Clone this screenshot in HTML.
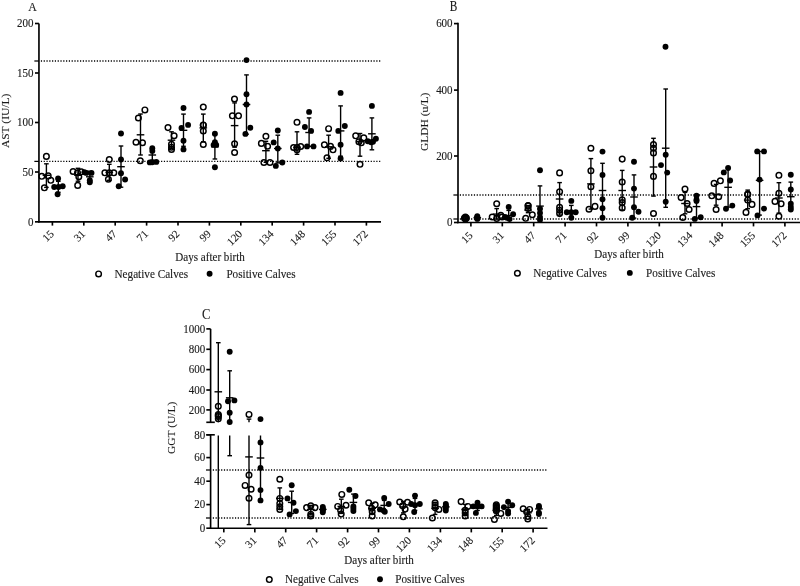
<!DOCTYPE html>
<html><head><meta charset="utf-8"><title>Figure</title>
<style>
html,body{margin:0;padding:0;background:#fff;}
body{width:800px;height:586px;overflow:hidden;font-family:"Liberation Serif", serif;}
svg{display:block;will-change:transform;}
text{fill:#1a1a1a;stroke:#1a1a1a;stroke-width:0.12px;}
</style></head><body>
<svg width="800" height="586" viewBox="0 0 800 586" font-family="'Liberation Serif', serif" fill="#000"><text transform="translate(28.3,10.5) scale(1,1.12)" font-size="11.8" text-anchor="start" >A</text><g stroke="#000" stroke-width="1.65" fill="none"><line x1="38.95" y1="23.5" x2="38.95" y2="222.6"/><line x1="38.2" y1="221.85" x2="381" y2="221.85"/><line x1="35.0" y1="23.5" x2="38.95" y2="23.5"/><line x1="35.0" y1="73.0" x2="38.95" y2="73.0"/><line x1="35.0" y1="122.5" x2="38.95" y2="122.5"/><line x1="35.0" y1="172.0" x2="38.95" y2="172.0"/><line x1="35.0" y1="221.85" x2="38.95" y2="221.85"/><line x1="52.4" y1="221.85" x2="52.4" y2="225.6"/><line x1="83.8" y1="221.85" x2="83.8" y2="225.6"/><line x1="115.2" y1="221.85" x2="115.2" y2="225.6"/><line x1="146.6" y1="221.85" x2="146.6" y2="225.6"/><line x1="178.0" y1="221.85" x2="178.0" y2="225.6"/><line x1="209.4" y1="221.85" x2="209.4" y2="225.6"/><line x1="240.8" y1="221.85" x2="240.8" y2="225.6"/><line x1="272.2" y1="221.85" x2="272.2" y2="225.6"/><line x1="303.6" y1="221.85" x2="303.6" y2="225.6"/><line x1="335.0" y1="221.85" x2="335.0" y2="225.6"/><line x1="366.4" y1="221.85" x2="366.4" y2="225.6"/></g><text transform="translate(33.5,27.3) scale(1,1.12)" font-size="11" text-anchor="end" >200</text><text transform="translate(33.5,76.8) scale(1,1.12)" font-size="11" text-anchor="end" >150</text><text transform="translate(33.5,126.3) scale(1,1.12)" font-size="11" text-anchor="end" >100</text><text transform="translate(33.5,175.8) scale(1,1.12)" font-size="11" text-anchor="end" >50</text><text transform="translate(33.5,225.65) scale(1,1.12)" font-size="11" text-anchor="end" >0</text><text transform="translate(54.6,234.5) rotate(-45)" font-size="11" text-anchor="end">15</text><text transform="translate(86.0,234.5) rotate(-45)" font-size="11" text-anchor="end">31</text><text transform="translate(117.4,234.5) rotate(-45)" font-size="11" text-anchor="end">47</text><text transform="translate(148.8,234.5) rotate(-45)" font-size="11" text-anchor="end">71</text><text transform="translate(180.2,234.5) rotate(-45)" font-size="11" text-anchor="end">92</text><text transform="translate(211.6,234.5) rotate(-45)" font-size="11" text-anchor="end">99</text><text transform="translate(243.0,234.5) rotate(-45)" font-size="11" text-anchor="end">120</text><text transform="translate(274.4,234.5) rotate(-45)" font-size="11" text-anchor="end">134</text><text transform="translate(305.8,234.5) rotate(-45)" font-size="11" text-anchor="end">148</text><text transform="translate(337.2,234.5) rotate(-45)" font-size="11" text-anchor="end">155</text><text transform="translate(368.6,234.5) rotate(-45)" font-size="11" text-anchor="end">172</text><line x1="40.87" y1="61.0" x2="381.5" y2="61.0" stroke="#000" stroke-width="1.35" stroke-dasharray="1.2 1.595"/><line x1="34.35" y1="61.0" x2="38.95" y2="61.0" stroke="#000" stroke-width="1.25"/><line x1="40.87" y1="161.4" x2="381.5" y2="161.4" stroke="#000" stroke-width="1.35" stroke-dasharray="1.2 1.595"/><line x1="34.35" y1="161.4" x2="38.95" y2="161.4" stroke="#000" stroke-width="1.25"/><text transform="translate(8.5,120.9) rotate(-90) scale(1,0.93)" font-size="11.5" text-anchor="middle">AST (IU/L)</text><text transform="translate(210,261) scale(1,1.12)" font-size="11.1" text-anchor="middle" >Days after birth</text><circle cx="98.6" cy="273.9" r="2.8" fill="none" stroke="#000" stroke-width="1.45"/><text transform="translate(114.5,277.5) scale(1,1.12)" font-size="11.2" text-anchor="start" >Negative Calves</text><circle cx="209.6" cy="273.7" r="2.95"/><text transform="translate(226.4,277.5) scale(1,1.12)" font-size="11.2" text-anchor="start" >Positive Calves</text><circle cx="46.4" cy="156.4" r="2.8" fill="none" stroke="#000" stroke-width="1.45"/><circle cx="41.8" cy="176.3" r="2.8" fill="none" stroke="#000" stroke-width="1.45"/><circle cx="48.2" cy="175.9" r="2.8" fill="none" stroke="#000" stroke-width="1.45"/><circle cx="50.8" cy="180.3" r="2.8" fill="none" stroke="#000" stroke-width="1.45"/><circle cx="44.4" cy="187.8" r="2.8" fill="none" stroke="#000" stroke-width="1.45"/><g stroke="#000" stroke-width="1.4"><line x1="46.4" y1="163.8" x2="46.4" y2="187.4"/><line x1="44.1" y1="163.8" x2="48.7" y2="163.8"/><line x1="44.1" y1="187.4" x2="48.7" y2="187.4"/><line x1="42.6" y1="175.3" x2="50.2" y2="175.3"/></g><circle cx="58.1" cy="178.5" r="2.95"/><circle cx="54.2" cy="187.0" r="2.95"/><circle cx="58.5" cy="187.0" r="2.95"/><circle cx="62.7" cy="186.2" r="2.95"/><circle cx="57.6" cy="194.3" r="2.95"/><g stroke="#000" stroke-width="1.4"><line x1="58.3" y1="181.3" x2="58.3" y2="192.3"/><line x1="56.0" y1="181.3" x2="60.6" y2="181.3"/><line x1="56.0" y1="192.3" x2="60.6" y2="192.3"/><line x1="54.5" y1="186.3" x2="62.1" y2="186.3"/></g><circle cx="73.1" cy="171.5" r="2.8" fill="none" stroke="#000" stroke-width="1.45"/><circle cx="77.5" cy="172.7" r="2.8" fill="none" stroke="#000" stroke-width="1.45"/><circle cx="81.3" cy="171.8" r="2.8" fill="none" stroke="#000" stroke-width="1.45"/><circle cx="78.8" cy="176.7" r="2.8" fill="none" stroke="#000" stroke-width="1.45"/><circle cx="77.7" cy="185.4" r="2.8" fill="none" stroke="#000" stroke-width="1.45"/><g stroke="#000" stroke-width="1.4"><line x1="78.0" y1="168.3" x2="78.0" y2="181.2"/><line x1="75.7" y1="168.3" x2="80.3" y2="168.3"/><line x1="75.7" y1="181.2" x2="80.3" y2="181.2"/><line x1="74.2" y1="175.3" x2="81.8" y2="175.3"/></g><circle cx="86.4" cy="172.9" r="2.95"/><circle cx="91.5" cy="172.9" r="2.95"/><circle cx="89.8" cy="180.2" r="2.95"/><circle cx="89.8" cy="182.2" r="2.95"/><circle cx="84.4" cy="172.3" r="2.95"/><g stroke="#000" stroke-width="1.4"><line x1="89.8" y1="171.3" x2="89.8" y2="182.3"/><line x1="87.5" y1="171.3" x2="92.1" y2="171.3"/><line x1="87.5" y1="182.3" x2="92.1" y2="182.3"/><line x1="86.0" y1="176.8" x2="93.6" y2="176.8"/></g><circle cx="109.3" cy="159.5" r="2.8" fill="none" stroke="#000" stroke-width="1.45"/><circle cx="104.9" cy="172.8" r="2.8" fill="none" stroke="#000" stroke-width="1.45"/><circle cx="109.3" cy="172.8" r="2.8" fill="none" stroke="#000" stroke-width="1.45"/><circle cx="113.8" cy="172.8" r="2.8" fill="none" stroke="#000" stroke-width="1.45"/><circle cx="108.4" cy="179.2" r="2.8" fill="none" stroke="#000" stroke-width="1.45"/><g stroke="#000" stroke-width="1.4"><line x1="109.3" y1="164.3" x2="109.3" y2="180.3"/><line x1="107.0" y1="164.3" x2="111.6" y2="164.3"/><line x1="107.0" y1="180.3" x2="111.6" y2="180.3"/><line x1="105.5" y1="172.3" x2="113.1" y2="172.3"/></g><circle cx="121.0" cy="133.5" r="2.95"/><circle cx="121.0" cy="159.5" r="2.95"/><circle cx="121.0" cy="173.3" r="2.95"/><circle cx="125.1" cy="179.5" r="2.95"/><circle cx="118.7" cy="186.3" r="2.95"/><g stroke="#000" stroke-width="1.4"><line x1="121.0" y1="146.0" x2="121.0" y2="187.2"/><line x1="118.7" y1="146.0" x2="123.3" y2="146.0"/><line x1="118.7" y1="187.2" x2="123.3" y2="187.2"/><line x1="117.2" y1="166.7" x2="124.8" y2="166.7"/></g><circle cx="144.9" cy="109.9" r="2.8" fill="none" stroke="#000" stroke-width="1.45"/><circle cx="138.4" cy="118.0" r="2.8" fill="none" stroke="#000" stroke-width="1.45"/><circle cx="136.0" cy="142.2" r="2.8" fill="none" stroke="#000" stroke-width="1.45"/><circle cx="142.5" cy="142.7" r="2.8" fill="none" stroke="#000" stroke-width="1.45"/><circle cx="140.3" cy="160.7" r="2.8" fill="none" stroke="#000" stroke-width="1.45"/><g stroke="#000" stroke-width="1.4"><line x1="140.5" y1="114.0" x2="140.5" y2="155.0"/><line x1="138.2" y1="114.0" x2="142.8" y2="114.0"/><line x1="138.2" y1="155.0" x2="142.8" y2="155.0"/><line x1="136.7" y1="134.8" x2="144.3" y2="134.8"/></g><circle cx="152.3" cy="148.3" r="2.95"/><circle cx="152.3" cy="150.9" r="2.95"/><circle cx="149.8" cy="162.4" r="2.95"/><circle cx="156.3" cy="161.9" r="2.95"/><circle cx="152.3" cy="162.3" r="2.95"/><g stroke="#000" stroke-width="1.4"><line x1="152.3" y1="148.3" x2="152.3" y2="160.3"/><line x1="150.0" y1="148.3" x2="154.6" y2="148.3"/><line x1="150.0" y1="160.3" x2="154.6" y2="160.3"/><line x1="148.5" y1="155.0" x2="156.1" y2="155.0"/></g><circle cx="168.0" cy="127.6" r="2.8" fill="none" stroke="#000" stroke-width="1.45"/><circle cx="174.1" cy="135.7" r="2.8" fill="none" stroke="#000" stroke-width="1.45"/><circle cx="171.5" cy="144.2" r="2.8" fill="none" stroke="#000" stroke-width="1.45"/><circle cx="171.5" cy="147.2" r="2.8" fill="none" stroke="#000" stroke-width="1.45"/><circle cx="171.5" cy="149.4" r="2.8" fill="none" stroke="#000" stroke-width="1.45"/><g stroke="#000" stroke-width="1.4"><line x1="171.5" y1="131.8" x2="171.5" y2="148.3"/><line x1="169.2" y1="131.8" x2="173.8" y2="131.8"/><line x1="169.2" y1="148.3" x2="173.8" y2="148.3"/><line x1="167.7" y1="140.2" x2="175.3" y2="140.2"/></g><circle cx="183.5" cy="108.0" r="2.95"/><circle cx="188.1" cy="124.9" r="2.95"/><circle cx="181.5" cy="127.9" r="2.95"/><circle cx="183.5" cy="140.8" r="2.95"/><circle cx="183.5" cy="149.4" r="2.95"/><g stroke="#000" stroke-width="1.4"><line x1="183.5" y1="114.1" x2="183.5" y2="146.3"/><line x1="181.2" y1="114.1" x2="185.8" y2="114.1"/><line x1="181.2" y1="146.3" x2="185.8" y2="146.3"/><line x1="179.7" y1="130.3" x2="187.3" y2="130.3"/></g><circle cx="203.3" cy="107.1" r="2.8" fill="none" stroke="#000" stroke-width="1.45"/><circle cx="203.3" cy="124.9" r="2.8" fill="none" stroke="#000" stroke-width="1.45"/><circle cx="203.3" cy="125.2" r="2.8" fill="none" stroke="#000" stroke-width="1.45"/><circle cx="203.3" cy="131.0" r="2.8" fill="none" stroke="#000" stroke-width="1.45"/><circle cx="203.3" cy="144.5" r="2.8" fill="none" stroke="#000" stroke-width="1.45"/><g stroke="#000" stroke-width="1.4"><line x1="203.3" y1="114.1" x2="203.3" y2="141.8"/><line x1="201.0" y1="114.1" x2="205.6" y2="114.1"/><line x1="201.0" y1="141.8" x2="205.6" y2="141.8"/><line x1="199.5" y1="127.9" x2="207.1" y2="127.9"/></g><circle cx="214.9" cy="133.7" r="2.95"/><circle cx="214.9" cy="142.2" r="2.95"/><circle cx="213.6" cy="144.9" r="2.95"/><circle cx="216.2" cy="144.9" r="2.95"/><circle cx="214.9" cy="167.3" r="2.95"/><g stroke="#000" stroke-width="1.4"><line x1="214.9" y1="134.3" x2="214.9" y2="159.0"/><line x1="212.6" y1="134.3" x2="217.2" y2="134.3"/><line x1="212.6" y1="159.0" x2="217.2" y2="159.0"/><line x1="211.1" y1="146.8" x2="218.7" y2="146.8"/></g><circle cx="234.5" cy="99.0" r="2.8" fill="none" stroke="#000" stroke-width="1.45"/><circle cx="232.4" cy="115.8" r="2.8" fill="none" stroke="#000" stroke-width="1.45"/><circle cx="238.5" cy="115.8" r="2.8" fill="none" stroke="#000" stroke-width="1.45"/><circle cx="234.6" cy="143.8" r="2.8" fill="none" stroke="#000" stroke-width="1.45"/><circle cx="234.6" cy="152.5" r="2.8" fill="none" stroke="#000" stroke-width="1.45"/><g stroke="#000" stroke-width="1.4"><line x1="234.6" y1="102.9" x2="234.6" y2="147.2"/><line x1="232.3" y1="102.9" x2="236.9" y2="102.9"/><line x1="232.3" y1="147.2" x2="236.9" y2="147.2"/><line x1="230.8" y1="125.6" x2="238.4" y2="125.6"/></g><circle cx="246.5" cy="60.1" r="2.95"/><circle cx="246.5" cy="94.3" r="2.95"/><circle cx="246.5" cy="104.5" r="2.95"/><circle cx="250.3" cy="127.8" r="2.95"/><circle cx="245.4" cy="133.9" r="2.95"/><g stroke="#000" stroke-width="1.4"><line x1="246.5" y1="74.9" x2="246.5" y2="134.2"/><line x1="244.2" y1="74.9" x2="248.8" y2="74.9"/><line x1="244.2" y1="134.2" x2="248.8" y2="134.2"/><line x1="242.7" y1="104.5" x2="250.3" y2="104.5"/></g><circle cx="265.9" cy="136.3" r="2.8" fill="none" stroke="#000" stroke-width="1.45"/><circle cx="261.4" cy="143.4" r="2.8" fill="none" stroke="#000" stroke-width="1.45"/><circle cx="267.6" cy="146.2" r="2.8" fill="none" stroke="#000" stroke-width="1.45"/><circle cx="263.9" cy="162.5" r="2.8" fill="none" stroke="#000" stroke-width="1.45"/><circle cx="270.0" cy="162.5" r="2.8" fill="none" stroke="#000" stroke-width="1.45"/><g stroke="#000" stroke-width="1.4"><line x1="265.9" y1="141.3" x2="265.9" y2="162.3"/><line x1="263.6" y1="141.3" x2="268.2" y2="141.3"/><line x1="263.6" y1="162.3" x2="268.2" y2="162.3"/><line x1="262.1" y1="150.7" x2="269.7" y2="150.7"/></g><circle cx="277.8" cy="130.5" r="2.95"/><circle cx="273.7" cy="142.4" r="2.95"/><circle cx="277.8" cy="148.5" r="2.95"/><circle cx="275.8" cy="165.9" r="2.95"/><circle cx="282.3" cy="162.5" r="2.95"/><g stroke="#000" stroke-width="1.4"><line x1="277.8" y1="135.2" x2="277.8" y2="162.9"/><line x1="275.5" y1="135.2" x2="280.1" y2="135.2"/><line x1="275.5" y1="162.9" x2="280.1" y2="162.9"/><line x1="274.0" y1="148.5" x2="281.6" y2="148.5"/></g><circle cx="297.0" cy="122.3" r="2.8" fill="none" stroke="#000" stroke-width="1.45"/><circle cx="293.6" cy="147.5" r="2.8" fill="none" stroke="#000" stroke-width="1.45"/><circle cx="297.0" cy="147.5" r="2.8" fill="none" stroke="#000" stroke-width="1.45"/><circle cx="300.7" cy="146.5" r="2.8" fill="none" stroke="#000" stroke-width="1.45"/><circle cx="297.0" cy="149.7" r="2.8" fill="none" stroke="#000" stroke-width="1.45"/><g stroke="#000" stroke-width="1.4"><line x1="297.0" y1="131.8" x2="297.0" y2="154.3"/><line x1="294.7" y1="131.8" x2="299.3" y2="131.8"/><line x1="294.7" y1="154.3" x2="299.3" y2="154.3"/><line x1="293.2" y1="147.3" x2="300.8" y2="147.3"/></g><circle cx="309.1" cy="111.9" r="2.95"/><circle cx="304.9" cy="127.0" r="2.95"/><circle cx="311.1" cy="130.9" r="2.95"/><circle cx="307.0" cy="146.4" r="2.95"/><circle cx="313.5" cy="146.4" r="2.95"/><g stroke="#000" stroke-width="1.4"><line x1="309.1" y1="117.9" x2="309.1" y2="146.3"/><line x1="306.8" y1="117.9" x2="311.4" y2="117.9"/><line x1="306.8" y1="146.3" x2="311.4" y2="146.3"/><line x1="305.3" y1="132.5" x2="312.9" y2="132.5"/></g><circle cx="328.6" cy="128.7" r="2.8" fill="none" stroke="#000" stroke-width="1.45"/><circle cx="324.4" cy="144.8" r="2.8" fill="none" stroke="#000" stroke-width="1.45"/><circle cx="330.5" cy="146.4" r="2.8" fill="none" stroke="#000" stroke-width="1.45"/><circle cx="333.0" cy="149.8" r="2.8" fill="none" stroke="#000" stroke-width="1.45"/><circle cx="327.0" cy="157.8" r="2.8" fill="none" stroke="#000" stroke-width="1.45"/><g stroke="#000" stroke-width="1.4"><line x1="328.6" y1="135.2" x2="328.6" y2="158.3"/><line x1="326.3" y1="135.2" x2="330.9" y2="135.2"/><line x1="326.3" y1="158.3" x2="330.9" y2="158.3"/><line x1="324.8" y1="146.8" x2="332.4" y2="146.8"/></g><circle cx="340.6" cy="92.9" r="2.95"/><circle cx="344.8" cy="126.0" r="2.95"/><circle cx="338.3" cy="130.9" r="2.95"/><circle cx="340.6" cy="144.8" r="2.95"/><circle cx="340.6" cy="158.4" r="2.95"/><g stroke="#000" stroke-width="1.4"><line x1="340.6" y1="105.9" x2="340.6" y2="156.2"/><line x1="338.3" y1="105.9" x2="342.9" y2="105.9"/><line x1="338.3" y1="156.2" x2="342.9" y2="156.2"/><line x1="336.8" y1="130.9" x2="344.4" y2="130.9"/></g><circle cx="355.7" cy="135.8" r="2.8" fill="none" stroke="#000" stroke-width="1.45"/><circle cx="363.8" cy="137.9" r="2.8" fill="none" stroke="#000" stroke-width="1.45"/><circle cx="358.9" cy="141.7" r="2.8" fill="none" stroke="#000" stroke-width="1.45"/><circle cx="361.3" cy="142.8" r="2.8" fill="none" stroke="#000" stroke-width="1.45"/><circle cx="360.0" cy="164.3" r="2.8" fill="none" stroke="#000" stroke-width="1.45"/><g stroke="#000" stroke-width="1.4"><line x1="360.0" y1="133.5" x2="360.0" y2="156.2"/><line x1="357.7" y1="133.5" x2="362.3" y2="133.5"/><line x1="357.7" y1="156.2" x2="362.3" y2="156.2"/><line x1="356.2" y1="141.7" x2="363.8" y2="141.7"/></g><circle cx="371.9" cy="105.9" r="2.95"/><circle cx="367.8" cy="141.2" r="2.95"/><circle cx="375.9" cy="138.8" r="2.95"/><circle cx="371.1" cy="142.2" r="2.95"/><circle cx="373.0" cy="141.7" r="2.95"/><g stroke="#000" stroke-width="1.4"><line x1="371.9" y1="117.9" x2="371.9" y2="149.8"/><line x1="369.6" y1="117.9" x2="374.2" y2="117.9"/><line x1="369.6" y1="149.8" x2="374.2" y2="149.8"/><line x1="368.1" y1="133.8" x2="375.7" y2="133.8"/></g><text transform="translate(449.7,10.7) scale(1,1.25)" font-size="11.3" text-anchor="start" >B</text><g stroke="#000" stroke-width="1.65" fill="none"><line x1="458.0" y1="22.8" x2="458.0" y2="223.25"/><line x1="457.25" y1="222.5" x2="800" y2="222.5"/><line x1="454.0" y1="23.6" x2="458.0" y2="23.6"/><line x1="454.0" y1="90.1" x2="458.0" y2="90.1"/><line x1="454.0" y1="156.0" x2="458.0" y2="156.0"/><line x1="454.0" y1="222.5" x2="458.0" y2="222.5"/><line x1="470.9" y1="222.5" x2="470.9" y2="226.4"/><line x1="502.3" y1="222.5" x2="502.3" y2="226.4"/><line x1="533.7" y1="222.5" x2="533.7" y2="226.4"/><line x1="565.1" y1="222.5" x2="565.1" y2="226.4"/><line x1="596.5" y1="222.5" x2="596.5" y2="226.4"/><line x1="627.9" y1="222.5" x2="627.9" y2="226.4"/><line x1="659.3" y1="222.5" x2="659.3" y2="226.4"/><line x1="690.7" y1="222.5" x2="690.7" y2="226.4"/><line x1="722.1" y1="222.5" x2="722.1" y2="226.4"/><line x1="753.5" y1="222.5" x2="753.5" y2="226.4"/><line x1="784.9" y1="222.5" x2="784.9" y2="226.4"/></g><text transform="translate(452.6,27.400000000000002) scale(1,1.12)" font-size="11" text-anchor="end" >600</text><text transform="translate(452.6,93.89999999999999) scale(1,1.12)" font-size="11" text-anchor="end" >400</text><text transform="translate(452.6,159.8) scale(1,1.12)" font-size="11" text-anchor="end" >200</text><text transform="translate(452.6,226.3) scale(1,1.12)" font-size="11" text-anchor="end" >0</text><text transform="translate(473.3,236.1) rotate(-45)" font-size="11" text-anchor="end">15</text><text transform="translate(504.7,236.1) rotate(-45)" font-size="11" text-anchor="end">31</text><text transform="translate(536.1,236.1) rotate(-45)" font-size="11" text-anchor="end">47</text><text transform="translate(567.5,236.1) rotate(-45)" font-size="11" text-anchor="end">71</text><text transform="translate(598.9,236.1) rotate(-45)" font-size="11" text-anchor="end">92</text><text transform="translate(630.3,236.1) rotate(-45)" font-size="11" text-anchor="end">99</text><text transform="translate(661.7,236.1) rotate(-45)" font-size="11" text-anchor="end">120</text><text transform="translate(693.1,236.1) rotate(-45)" font-size="11" text-anchor="end">134</text><text transform="translate(724.5,236.1) rotate(-45)" font-size="11" text-anchor="end">148</text><text transform="translate(755.9,236.1) rotate(-45)" font-size="11" text-anchor="end">155</text><text transform="translate(787.3,236.1) rotate(-45)" font-size="11" text-anchor="end">172</text><line x1="459.80" y1="195.0" x2="800" y2="195.0" stroke="#000" stroke-width="1.35" stroke-dasharray="1.2 1.614"/><line x1="453.40" y1="195.0" x2="458.0" y2="195.0" stroke="#000" stroke-width="1.25"/><line x1="459.80" y1="219.0" x2="800" y2="219.0" stroke="#000" stroke-width="1.35" stroke-dasharray="1.2 1.614"/><line x1="453.40" y1="219.0" x2="458.0" y2="219.0" stroke="#000" stroke-width="1.25"/><text transform="translate(427.5,121.8) rotate(-90) scale(1,0.93)" font-size="11.5" text-anchor="middle">GLDH (u/L)</text><text transform="translate(629,258.3) scale(1,1.12)" font-size="11.1" text-anchor="middle" >Days after birth</text><circle cx="517.4" cy="273.2" r="2.8" fill="none" stroke="#000" stroke-width="1.45"/><text transform="translate(533.2,277.3) scale(1,1.12)" font-size="11.2" text-anchor="start" >Negative Calves</text><circle cx="629.8" cy="272.9" r="2.95"/><text transform="translate(646.1,277.3) scale(1,1.12)" font-size="11.2" text-anchor="start" >Positive Calves</text><circle cx="465.4" cy="217.1" r="2.8" fill="none" stroke="#000" stroke-width="1.45"/><circle cx="465.4" cy="219.1" r="2.8" fill="none" stroke="#000" stroke-width="1.45"/><circle cx="464.4" cy="218.1" r="2.8" fill="none" stroke="#000" stroke-width="1.45"/><circle cx="466.4" cy="218.1" r="2.8" fill="none" stroke="#000" stroke-width="1.45"/><circle cx="465.4" cy="218.1" r="2.8" fill="none" stroke="#000" stroke-width="1.45"/><g stroke="#000" stroke-width="1.4"><line x1="465.4" y1="217.1" x2="465.4" y2="219.1"/><line x1="463.1" y1="217.1" x2="467.7" y2="217.1"/><line x1="463.1" y1="219.1" x2="467.7" y2="219.1"/><line x1="461.6" y1="218.1" x2="469.2" y2="218.1"/></g><circle cx="477.3" cy="216.1" r="2.95"/><circle cx="477.3" cy="217.3" r="2.95"/><circle cx="477.3" cy="218.3" r="2.95"/><circle cx="477.3" cy="218.9" r="2.95"/><circle cx="477.1" cy="217.7" r="2.95"/><g stroke="#000" stroke-width="1.4"><line x1="477.3" y1="216.1" x2="477.3" y2="219.1"/><line x1="475.0" y1="216.1" x2="479.6" y2="216.1"/><line x1="475.0" y1="219.1" x2="479.6" y2="219.1"/><line x1="473.5" y1="217.6" x2="481.1" y2="217.6"/></g><circle cx="496.7" cy="203.7" r="2.8" fill="none" stroke="#000" stroke-width="1.45"/><circle cx="492.2" cy="217.0" r="2.8" fill="none" stroke="#000" stroke-width="1.45"/><circle cx="500.8" cy="215.4" r="2.8" fill="none" stroke="#000" stroke-width="1.45"/><circle cx="496.7" cy="218.4" r="2.8" fill="none" stroke="#000" stroke-width="1.45"/><circle cx="502.1" cy="217.0" r="2.8" fill="none" stroke="#000" stroke-width="1.45"/><g stroke="#000" stroke-width="1.4"><line x1="496.7" y1="208.6" x2="496.7" y2="219.1"/><line x1="494.4" y1="208.6" x2="499.0" y2="208.6"/><line x1="494.4" y1="219.1" x2="499.0" y2="219.1"/><line x1="492.9" y1="214.1" x2="500.5" y2="214.1"/></g><circle cx="508.7" cy="207.0" r="2.95"/><circle cx="513.1" cy="214.3" r="2.95"/><circle cx="506.9" cy="217.7" r="2.95"/><circle cx="509.6" cy="219.1" r="2.95"/><circle cx="504.9" cy="217.0" r="2.95"/><g stroke="#000" stroke-width="1.4"><line x1="508.7" y1="210.4" x2="508.7" y2="219.1"/><line x1="506.4" y1="210.4" x2="511.0" y2="210.4"/><line x1="506.4" y1="219.1" x2="511.0" y2="219.1"/><line x1="504.9" y1="215.6" x2="512.5" y2="215.6"/></g><circle cx="528.1" cy="205.5" r="2.8" fill="none" stroke="#000" stroke-width="1.45"/><circle cx="528.1" cy="208.5" r="2.8" fill="none" stroke="#000" stroke-width="1.45"/><circle cx="532.3" cy="214.7" r="2.8" fill="none" stroke="#000" stroke-width="1.45"/><circle cx="525.7" cy="218.3" r="2.8" fill="none" stroke="#000" stroke-width="1.45"/><circle cx="528.1" cy="205.7" r="2.8" fill="none" stroke="#000" stroke-width="1.45"/><g stroke="#000" stroke-width="1.4"><line x1="528.1" y1="205.5" x2="528.1" y2="212.7"/><line x1="525.8" y1="205.5" x2="530.4" y2="205.5"/><line x1="525.8" y1="212.7" x2="530.4" y2="212.7"/><line x1="524.3" y1="210.1" x2="531.9" y2="210.1"/></g><circle cx="540.0" cy="170.3" r="2.95"/><circle cx="540.0" cy="208.8" r="2.95"/><circle cx="540.0" cy="212.9" r="2.95"/><circle cx="540.0" cy="217.1" r="2.95"/><circle cx="540.0" cy="219.8" r="2.95"/><g stroke="#000" stroke-width="1.4"><line x1="540.0" y1="185.9" x2="540.0" y2="222.1"/><line x1="537.7" y1="185.9" x2="542.3" y2="185.9"/><line x1="537.7" y1="222.1" x2="542.3" y2="222.1"/><line x1="536.2" y1="206.1" x2="543.8" y2="206.1"/></g><circle cx="559.6" cy="172.9" r="2.8" fill="none" stroke="#000" stroke-width="1.45"/><circle cx="559.6" cy="191.7" r="2.8" fill="none" stroke="#000" stroke-width="1.45"/><circle cx="559.6" cy="207.4" r="2.8" fill="none" stroke="#000" stroke-width="1.45"/><circle cx="559.6" cy="210.2" r="2.8" fill="none" stroke="#000" stroke-width="1.45"/><circle cx="559.6" cy="213.6" r="2.8" fill="none" stroke="#000" stroke-width="1.45"/><g stroke="#000" stroke-width="1.4"><line x1="559.6" y1="182.6" x2="559.6" y2="215.1"/><line x1="557.3" y1="182.6" x2="561.9" y2="182.6"/><line x1="557.3" y1="215.1" x2="561.9" y2="215.1"/><line x1="555.8" y1="199.0" x2="563.4" y2="199.0"/></g><circle cx="571.3" cy="200.9" r="2.95"/><circle cx="566.8" cy="212.2" r="2.95"/><circle cx="575.7" cy="212.2" r="2.95"/><circle cx="571.3" cy="212.2" r="2.95"/><circle cx="571.3" cy="217.7" r="2.95"/><g stroke="#000" stroke-width="1.4"><line x1="571.3" y1="205.4" x2="571.3" y2="217.0"/><line x1="569.0" y1="205.4" x2="573.6" y2="205.4"/><line x1="569.0" y1="217.0" x2="573.6" y2="217.0"/><line x1="567.5" y1="211.1" x2="575.1" y2="211.1"/></g><circle cx="590.9" cy="148.2" r="2.8" fill="none" stroke="#000" stroke-width="1.45"/><circle cx="590.9" cy="170.8" r="2.8" fill="none" stroke="#000" stroke-width="1.45"/><circle cx="590.9" cy="186.7" r="2.8" fill="none" stroke="#000" stroke-width="1.45"/><circle cx="589.0" cy="209.2" r="2.8" fill="none" stroke="#000" stroke-width="1.45"/><circle cx="595.0" cy="206.4" r="2.8" fill="none" stroke="#000" stroke-width="1.45"/><g stroke="#000" stroke-width="1.4"><line x1="590.9" y1="158.6" x2="590.9" y2="209.1"/><line x1="588.6" y1="158.6" x2="593.2" y2="158.6"/><line x1="588.6" y1="209.1" x2="593.2" y2="209.1"/><line x1="587.1" y1="183.9" x2="594.7" y2="183.9"/></g><circle cx="602.5" cy="151.6" r="2.95"/><circle cx="602.5" cy="174.9" r="2.95"/><circle cx="602.5" cy="199.3" r="2.95"/><circle cx="602.5" cy="208.3" r="2.95"/><circle cx="602.5" cy="217.7" r="2.95"/><g stroke="#000" stroke-width="1.4"><line x1="602.5" y1="163.3" x2="602.5" y2="217.7"/><line x1="600.2" y1="163.3" x2="604.8" y2="163.3"/><line x1="600.2" y1="217.7" x2="604.8" y2="217.7"/><line x1="598.7" y1="190.5" x2="606.3" y2="190.5"/></g><circle cx="622.2" cy="159.1" r="2.8" fill="none" stroke="#000" stroke-width="1.45"/><circle cx="622.2" cy="182.0" r="2.8" fill="none" stroke="#000" stroke-width="1.45"/><circle cx="622.2" cy="199.8" r="2.8" fill="none" stroke="#000" stroke-width="1.45"/><circle cx="622.2" cy="202.6" r="2.8" fill="none" stroke="#000" stroke-width="1.45"/><circle cx="622.2" cy="207.9" r="2.8" fill="none" stroke="#000" stroke-width="1.45"/><g stroke="#000" stroke-width="1.4"><line x1="622.2" y1="170.4" x2="622.2" y2="210.1"/><line x1="619.9" y1="170.4" x2="624.5" y2="170.4"/><line x1="619.9" y1="210.1" x2="624.5" y2="210.1"/><line x1="618.4" y1="190.5" x2="626.0" y2="190.5"/></g><circle cx="634.0" cy="161.8" r="2.95"/><circle cx="634.0" cy="188.6" r="2.95"/><circle cx="634.0" cy="207.3" r="2.95"/><circle cx="638.5" cy="211.7" r="2.95"/><circle cx="632.2" cy="217.7" r="2.95"/><g stroke="#000" stroke-width="1.4"><line x1="634.0" y1="174.9" x2="634.0" y2="218.1"/><line x1="631.7" y1="174.9" x2="636.3" y2="174.9"/><line x1="631.7" y1="218.1" x2="636.3" y2="218.1"/><line x1="630.2" y1="197.0" x2="637.8" y2="197.0"/></g><circle cx="653.5" cy="144.5" r="2.8" fill="none" stroke="#000" stroke-width="1.45"/><circle cx="653.5" cy="148.2" r="2.8" fill="none" stroke="#000" stroke-width="1.45"/><circle cx="653.5" cy="152.9" r="2.8" fill="none" stroke="#000" stroke-width="1.45"/><circle cx="653.5" cy="176.4" r="2.8" fill="none" stroke="#000" stroke-width="1.45"/><circle cx="653.5" cy="213.5" r="2.8" fill="none" stroke="#000" stroke-width="1.45"/><g stroke="#000" stroke-width="1.4"><line x1="653.5" y1="138.3" x2="653.5" y2="196.1"/><line x1="651.2" y1="138.3" x2="655.8" y2="138.3"/><line x1="651.2" y1="196.1" x2="655.8" y2="196.1"/><line x1="649.7" y1="167.0" x2="657.3" y2="167.0"/></g><circle cx="665.5" cy="46.8" r="2.95"/><circle cx="665.7" cy="154.8" r="2.95"/><circle cx="661.0" cy="165.1" r="2.95"/><circle cx="667.2" cy="172.6" r="2.95"/><circle cx="665.7" cy="201.7" r="2.95"/><g stroke="#000" stroke-width="1.4"><line x1="665.7" y1="89.0" x2="665.7" y2="207.3"/><line x1="663.4" y1="89.0" x2="668.0" y2="89.0"/><line x1="663.4" y1="207.3" x2="668.0" y2="207.3"/><line x1="661.9" y1="148.2" x2="669.5" y2="148.2"/></g><circle cx="685.0" cy="189.0" r="2.8" fill="none" stroke="#000" stroke-width="1.45"/><circle cx="681.1" cy="197.6" r="2.8" fill="none" stroke="#000" stroke-width="1.45"/><circle cx="687.1" cy="203.5" r="2.8" fill="none" stroke="#000" stroke-width="1.45"/><circle cx="689.1" cy="209.5" r="2.8" fill="none" stroke="#000" stroke-width="1.45"/><circle cx="682.8" cy="217.5" r="2.8" fill="none" stroke="#000" stroke-width="1.45"/><g stroke="#000" stroke-width="1.4"><line x1="685.0" y1="192.4" x2="685.0" y2="213.8"/><line x1="682.7" y1="192.4" x2="687.3" y2="192.4"/><line x1="682.7" y1="213.8" x2="687.3" y2="213.8"/><line x1="681.2" y1="203.5" x2="688.8" y2="203.5"/></g><circle cx="696.5" cy="195.8" r="2.95"/><circle cx="696.5" cy="199.8" r="2.95"/><circle cx="696.5" cy="201.0" r="2.95"/><circle cx="694.8" cy="218.9" r="2.95"/><circle cx="700.7" cy="217.2" r="2.95"/><g stroke="#000" stroke-width="1.4"><line x1="696.5" y1="195.1" x2="696.5" y2="218.1"/><line x1="694.2" y1="195.1" x2="698.8" y2="195.1"/><line x1="694.2" y1="218.1" x2="698.8" y2="218.1"/><line x1="692.7" y1="206.6" x2="700.3" y2="206.6"/></g><circle cx="720.4" cy="180.8" r="2.8" fill="none" stroke="#000" stroke-width="1.45"/><circle cx="714.1" cy="183.4" r="2.8" fill="none" stroke="#000" stroke-width="1.45"/><circle cx="711.8" cy="195.8" r="2.8" fill="none" stroke="#000" stroke-width="1.45"/><circle cx="718.7" cy="196.7" r="2.8" fill="none" stroke="#000" stroke-width="1.45"/><circle cx="716.1" cy="209.5" r="2.8" fill="none" stroke="#000" stroke-width="1.45"/><g stroke="#000" stroke-width="1.4"><line x1="716.1" y1="184.4" x2="716.1" y2="205.2"/><line x1="713.8" y1="184.4" x2="718.4" y2="184.4"/><line x1="713.8" y1="205.2" x2="718.4" y2="205.2"/><line x1="712.3" y1="194.6" x2="719.9" y2="194.6"/></g><circle cx="728.1" cy="168.0" r="2.95"/><circle cx="723.8" cy="172.4" r="2.95"/><circle cx="730.1" cy="180.5" r="2.95"/><circle cx="726.0" cy="208.7" r="2.95"/><circle cx="732.3" cy="205.6" r="2.95"/><g stroke="#000" stroke-width="1.4"><line x1="728.1" y1="168.1" x2="728.1" y2="207.1"/><line x1="725.8" y1="168.1" x2="730.4" y2="168.1"/><line x1="725.8" y1="207.1" x2="730.4" y2="207.1"/><line x1="724.3" y1="187.3" x2="731.9" y2="187.3"/></g><circle cx="747.7" cy="194.1" r="2.8" fill="none" stroke="#000" stroke-width="1.45"/><circle cx="747.7" cy="200.1" r="2.8" fill="none" stroke="#000" stroke-width="1.45"/><circle cx="752.0" cy="204.4" r="2.8" fill="none" stroke="#000" stroke-width="1.45"/><circle cx="746.0" cy="212.4" r="2.8" fill="none" stroke="#000" stroke-width="1.45"/><circle cx="747.7" cy="194.6" r="2.8" fill="none" stroke="#000" stroke-width="1.45"/><g stroke="#000" stroke-width="1.4"><line x1="747.7" y1="190.1" x2="747.7" y2="208.7"/><line x1="745.4" y1="190.1" x2="750.0" y2="190.1"/><line x1="745.4" y1="208.7" x2="750.0" y2="208.7"/><line x1="743.9" y1="200.1" x2="751.5" y2="200.1"/></g><circle cx="757.2" cy="151.4" r="2.95"/><circle cx="764.0" cy="151.4" r="2.95"/><circle cx="759.6" cy="179.6" r="2.95"/><circle cx="764.0" cy="208.6" r="2.95"/><circle cx="757.5" cy="215.4" r="2.95"/><g stroke="#000" stroke-width="1.4"><line x1="759.6" y1="151.4" x2="759.6" y2="215.1"/><line x1="757.3" y1="151.4" x2="761.9" y2="151.4"/><line x1="757.3" y1="215.1" x2="761.9" y2="215.1"/><line x1="755.8" y1="180.4" x2="763.4" y2="180.4"/></g><circle cx="778.9" cy="175.3" r="2.8" fill="none" stroke="#000" stroke-width="1.45"/><circle cx="778.9" cy="193.2" r="2.8" fill="none" stroke="#000" stroke-width="1.45"/><circle cx="775.0" cy="201.4" r="2.8" fill="none" stroke="#000" stroke-width="1.45"/><circle cx="781.1" cy="203.8" r="2.8" fill="none" stroke="#000" stroke-width="1.45"/><circle cx="778.9" cy="216.3" r="2.8" fill="none" stroke="#000" stroke-width="1.45"/><g stroke="#000" stroke-width="1.4"><line x1="778.9" y1="182.7" x2="778.9" y2="213.1"/><line x1="776.6" y1="182.7" x2="781.2" y2="182.7"/><line x1="776.6" y1="213.1" x2="781.2" y2="213.1"/><line x1="775.1" y1="198.0" x2="782.7" y2="198.0"/></g><circle cx="790.8" cy="174.8" r="2.95"/><circle cx="790.8" cy="189.5" r="2.95"/><circle cx="790.8" cy="203.8" r="2.95"/><circle cx="790.8" cy="206.9" r="2.95"/><circle cx="790.8" cy="209.5" r="2.95"/><g stroke="#000" stroke-width="1.4"><line x1="790.8" y1="182.1" x2="790.8" y2="209.1"/><line x1="788.5" y1="182.1" x2="793.1" y2="182.1"/><line x1="788.5" y1="209.1" x2="793.1" y2="209.1"/><line x1="787.0" y1="196.7" x2="794.6" y2="196.7"/></g><text transform="translate(201.9,318.7) scale(1,1.12)" font-size="12.5" text-anchor="start" >C</text><g stroke="#000" stroke-width="1.65" fill="none"><line x1="210.6" y1="328.9" x2="210.6" y2="422.3"/><line x1="206.3" y1="422.3" x2="214.8" y2="422.3"/><line x1="210.6" y1="434.8" x2="210.6" y2="528.95"/><line x1="206.3" y1="434.8" x2="214.8" y2="434.8"/><line x1="209.85" y1="528.2" x2="547.5" y2="528.2"/><line x1="206.3" y1="328.9" x2="210.6" y2="328.9"/><line x1="206.3" y1="349.3" x2="210.6" y2="349.3"/><line x1="206.3" y1="369.6" x2="210.6" y2="369.6"/><line x1="206.3" y1="390.0" x2="210.6" y2="390.0"/><line x1="206.3" y1="409.9" x2="210.6" y2="409.9"/><line x1="206.3" y1="434.8" x2="210.6" y2="434.8"/><line x1="206.3" y1="457.6" x2="210.6" y2="457.6"/><line x1="206.3" y1="481.2" x2="210.6" y2="481.2"/><line x1="206.3" y1="504.6" x2="210.6" y2="504.6"/><line x1="206.3" y1="528.2" x2="210.6" y2="528.2"/><line x1="223.8" y1="528.2" x2="223.8" y2="532.4"/><line x1="254.8" y1="528.2" x2="254.8" y2="532.4"/><line x1="285.7" y1="528.2" x2="285.7" y2="532.4"/><line x1="316.6" y1="528.2" x2="316.6" y2="532.4"/><line x1="347.6" y1="528.2" x2="347.6" y2="532.4"/><line x1="378.5" y1="528.2" x2="378.5" y2="532.4"/><line x1="409.4" y1="528.2" x2="409.4" y2="532.4"/><line x1="440.4" y1="528.2" x2="440.4" y2="532.4"/><line x1="471.3" y1="528.2" x2="471.3" y2="532.4"/><line x1="502.2" y1="528.2" x2="502.2" y2="532.4"/><line x1="533.1" y1="528.2" x2="533.1" y2="532.4"/></g><text transform="translate(205.3,332.59999999999997) scale(1,1.12)" font-size="11" text-anchor="end" >1000</text><text transform="translate(205.3,353.0) scale(1,1.12)" font-size="11" text-anchor="end" >800</text><text transform="translate(205.3,373.3) scale(1,1.12)" font-size="11" text-anchor="end" >600</text><text transform="translate(205.3,393.7) scale(1,1.12)" font-size="11" text-anchor="end" >400</text><text transform="translate(205.3,413.59999999999997) scale(1,1.12)" font-size="11" text-anchor="end" >200</text><text transform="translate(205.3,438.5) scale(1,1.12)" font-size="11" text-anchor="end" >80</text><text transform="translate(205.3,461.3) scale(1,1.12)" font-size="11" text-anchor="end" >60</text><text transform="translate(205.3,484.9) scale(1,1.12)" font-size="11" text-anchor="end" >40</text><text transform="translate(205.3,508.3) scale(1,1.12)" font-size="11" text-anchor="end" >20</text><text transform="translate(205.3,531.9000000000001) scale(1,1.12)" font-size="11" text-anchor="end" >0</text><text transform="translate(226.3,541.0) rotate(-45)" font-size="11" text-anchor="end">15</text><text transform="translate(257.3,541.0) rotate(-45)" font-size="11" text-anchor="end">31</text><text transform="translate(288.2,541.0) rotate(-45)" font-size="11" text-anchor="end">47</text><text transform="translate(319.1,541.0) rotate(-45)" font-size="11" text-anchor="end">71</text><text transform="translate(350.1,541.0) rotate(-45)" font-size="11" text-anchor="end">92</text><text transform="translate(381.0,541.0) rotate(-45)" font-size="11" text-anchor="end">99</text><text transform="translate(411.9,541.0) rotate(-45)" font-size="11" text-anchor="end">120</text><text transform="translate(442.9,541.0) rotate(-45)" font-size="11" text-anchor="end">134</text><text transform="translate(473.8,541.0) rotate(-45)" font-size="11" text-anchor="end">148</text><text transform="translate(504.7,541.0) rotate(-45)" font-size="11" text-anchor="end">155</text><text transform="translate(535.6,541.0) rotate(-45)" font-size="11" text-anchor="end">172</text><line x1="212.80" y1="470.0" x2="547.5" y2="470.0" stroke="#000" stroke-width="1.35" stroke-dasharray="1.2 1.570"/><line x1="206.00" y1="470.0" x2="210.6" y2="470.0" stroke="#000" stroke-width="1.25"/><line x1="212.80" y1="518.0" x2="547.5" y2="518.0" stroke="#000" stroke-width="1.35" stroke-dasharray="1.2 1.570"/><line x1="206.00" y1="518.0" x2="210.6" y2="518.0" stroke="#000" stroke-width="1.25"/><text transform="translate(174.8,427.9) rotate(-90) scale(1,0.93)" font-size="11.5" text-anchor="middle">GGT (U/L)</text><text transform="translate(379,563.9) scale(1,1.12)" font-size="11.1" text-anchor="middle" >Days after birth</text><circle cx="269.3" cy="579.6" r="2.8" fill="none" stroke="#000" stroke-width="1.45"/><text transform="translate(285,583.3) scale(1,1.12)" font-size="11.2" text-anchor="start" >Negative Calves</text><circle cx="380.0" cy="579.2" r="2.95"/><text transform="translate(395.3,583.3) scale(1,1.12)" font-size="11.2" text-anchor="start" >Positive Calves</text><circle cx="218.3" cy="406.2" r="2.8" fill="none" stroke="#000" stroke-width="1.45"/><circle cx="218.3" cy="414.4" r="2.8" fill="none" stroke="#000" stroke-width="1.45"/><circle cx="218.3" cy="416.6" r="2.8" fill="none" stroke="#000" stroke-width="1.45"/><circle cx="218.3" cy="418.8" r="2.8" fill="none" stroke="#000" stroke-width="1.45"/><circle cx="218.3" cy="415.4" r="2.8" fill="none" stroke="#000" stroke-width="1.45"/><g stroke="#000" stroke-width="1.4"><line x1="218.3" y1="342.7" x2="218.3" y2="422.3"/><line x1="218.3" y1="435.5" x2="218.3" y2="528.0"/><line x1="216.0" y1="342.7" x2="220.6" y2="342.7"/><line x1="214.5" y1="391.8" x2="222.1" y2="391.8"/></g><circle cx="229.7" cy="351.7" r="2.95"/><circle cx="228.0" cy="401.2" r="2.95"/><circle cx="234.4" cy="400.4" r="2.95"/><circle cx="229.7" cy="412.8" r="2.95"/><circle cx="229.7" cy="422.0" r="2.95"/><g stroke="#000" stroke-width="1.4"><line x1="229.7" y1="370.8" x2="229.7" y2="422.3"/><line x1="229.7" y1="435.5" x2="229.7" y2="455.7"/><line x1="227.4" y1="370.8" x2="232.0" y2="370.8"/><line x1="227.4" y1="455.7" x2="232.0" y2="455.7"/><line x1="225.9" y1="397.8" x2="233.5" y2="397.8"/></g><circle cx="249.0" cy="414.4" r="2.8" fill="none" stroke="#000" stroke-width="1.45"/><circle cx="249.0" cy="475.1" r="2.8" fill="none" stroke="#000" stroke-width="1.45"/><circle cx="245.1" cy="485.4" r="2.8" fill="none" stroke="#000" stroke-width="1.45"/><circle cx="251.1" cy="489.2" r="2.8" fill="none" stroke="#000" stroke-width="1.45"/><circle cx="249.0" cy="498.2" r="2.8" fill="none" stroke="#000" stroke-width="1.45"/><g stroke="#000" stroke-width="1.4"><line x1="249.0" y1="419.1" x2="249.0" y2="422.3"/><line x1="249.0" y1="435.5" x2="249.0" y2="524.6"/><line x1="246.7" y1="419.1" x2="251.3" y2="419.1"/><line x1="246.7" y1="524.6" x2="251.3" y2="524.6"/><line x1="245.2" y1="456.9" x2="252.8" y2="456.9"/></g><circle cx="260.5" cy="419.1" r="2.95"/><circle cx="260.5" cy="442.4" r="2.95"/><circle cx="260.5" cy="467.9" r="2.95"/><circle cx="260.5" cy="490.1" r="2.95"/><circle cx="260.5" cy="500.4" r="2.95"/><g stroke="#000" stroke-width="1.4"><line x1="260.5" y1="435.5" x2="260.5" y2="501.4"/><line x1="258.2" y1="501.4" x2="262.8" y2="501.4"/><line x1="256.7" y1="458.0" x2="264.3" y2="458.0"/></g><circle cx="279.8" cy="479.2" r="2.8" fill="none" stroke="#000" stroke-width="1.45"/><circle cx="279.8" cy="498.4" r="2.8" fill="none" stroke="#000" stroke-width="1.45"/><circle cx="279.8" cy="503.4" r="2.8" fill="none" stroke="#000" stroke-width="1.45"/><circle cx="279.8" cy="506.7" r="2.8" fill="none" stroke="#000" stroke-width="1.45"/><circle cx="279.8" cy="509.4" r="2.8" fill="none" stroke="#000" stroke-width="1.45"/><g stroke="#000" stroke-width="1.4"><line x1="279.8" y1="487.9" x2="279.8" y2="509.4"/><line x1="277.5" y1="487.9" x2="282.1" y2="487.9"/><line x1="277.5" y1="509.4" x2="282.1" y2="509.4"/><line x1="276.0" y1="498.4" x2="283.6" y2="498.4"/></g><circle cx="291.7" cy="485.2" r="2.95"/><circle cx="287.5" cy="498.4" r="2.95"/><circle cx="293.5" cy="502.8" r="2.95"/><circle cx="295.9" cy="511.1" r="2.95"/><circle cx="289.6" cy="514.4" r="2.95"/><g stroke="#000" stroke-width="1.4"><line x1="291.7" y1="491.2" x2="291.7" y2="513.5"/><line x1="289.4" y1="491.2" x2="294.0" y2="491.2"/><line x1="289.4" y1="513.5" x2="294.0" y2="513.5"/><line x1="287.9" y1="502.4" x2="295.5" y2="502.4"/></g><circle cx="306.6" cy="507.6" r="2.8" fill="none" stroke="#000" stroke-width="1.45"/><circle cx="310.8" cy="505.8" r="2.8" fill="none" stroke="#000" stroke-width="1.45"/><circle cx="315.0" cy="507.6" r="2.8" fill="none" stroke="#000" stroke-width="1.45"/><circle cx="310.8" cy="514.2" r="2.8" fill="none" stroke="#000" stroke-width="1.45"/><circle cx="310.8" cy="516.0" r="2.8" fill="none" stroke="#000" stroke-width="1.45"/><g stroke="#000" stroke-width="1.4"><line x1="310.8" y1="505.4" x2="310.8" y2="514.9"/><line x1="308.5" y1="505.4" x2="313.1" y2="505.4"/><line x1="308.5" y1="514.9" x2="313.1" y2="514.9"/><line x1="307.0" y1="509.4" x2="314.6" y2="509.4"/></g><circle cx="322.8" cy="507.0" r="2.95"/><circle cx="322.8" cy="508.8" r="2.95"/><circle cx="322.8" cy="510.5" r="2.95"/><circle cx="322.8" cy="512.2" r="2.95"/><circle cx="322.8" cy="509.4" r="2.95"/><g stroke="#000" stroke-width="1.4"><line x1="322.8" y1="506.4" x2="322.8" y2="512.4"/><line x1="320.5" y1="506.4" x2="325.1" y2="506.4"/><line x1="320.5" y1="512.4" x2="325.1" y2="512.4"/><line x1="319.0" y1="509.4" x2="326.6" y2="509.4"/></g><circle cx="341.8" cy="494.4" r="2.8" fill="none" stroke="#000" stroke-width="1.45"/><circle cx="346.0" cy="505.2" r="2.8" fill="none" stroke="#000" stroke-width="1.45"/><circle cx="337.7" cy="506.4" r="2.8" fill="none" stroke="#000" stroke-width="1.45"/><circle cx="340.6" cy="510.2" r="2.8" fill="none" stroke="#000" stroke-width="1.45"/><circle cx="341.2" cy="514.1" r="2.8" fill="none" stroke="#000" stroke-width="1.45"/><g stroke="#000" stroke-width="1.4"><line x1="341.3" y1="499.2" x2="341.3" y2="513.4"/><line x1="339.0" y1="499.2" x2="343.6" y2="499.2"/><line x1="339.0" y1="513.4" x2="343.6" y2="513.4"/><line x1="337.5" y1="506.4" x2="345.1" y2="506.4"/></g><circle cx="349.3" cy="489.7" r="2.95"/><circle cx="355.5" cy="496.0" r="2.95"/><circle cx="353.4" cy="506.4" r="2.95"/><circle cx="353.4" cy="508.8" r="2.95"/><circle cx="353.4" cy="511.1" r="2.95"/><g stroke="#000" stroke-width="1.4"><line x1="353.4" y1="494.1" x2="353.4" y2="510.4"/><line x1="351.1" y1="494.1" x2="355.7" y2="494.1"/><line x1="351.1" y1="510.4" x2="355.7" y2="510.4"/><line x1="349.6" y1="502.4" x2="357.2" y2="502.4"/></g><circle cx="368.7" cy="502.8" r="2.8" fill="none" stroke="#000" stroke-width="1.45"/><circle cx="375.2" cy="504.8" r="2.8" fill="none" stroke="#000" stroke-width="1.45"/><circle cx="371.6" cy="508.2" r="2.8" fill="none" stroke="#000" stroke-width="1.45"/><circle cx="372.2" cy="511.7" r="2.8" fill="none" stroke="#000" stroke-width="1.45"/><circle cx="372.2" cy="515.9" r="2.8" fill="none" stroke="#000" stroke-width="1.45"/><g stroke="#000" stroke-width="1.4"><line x1="372.2" y1="503.4" x2="372.2" y2="513.4"/><line x1="369.9" y1="503.4" x2="374.5" y2="503.4"/><line x1="369.9" y1="513.4" x2="374.5" y2="513.4"/><line x1="368.4" y1="508.4" x2="376.0" y2="508.4"/></g><circle cx="384.2" cy="498.0" r="2.95"/><circle cx="388.7" cy="504.0" r="2.95"/><circle cx="380.0" cy="509.4" r="2.95"/><circle cx="383.6" cy="510.5" r="2.95"/><circle cx="384.8" cy="511.7" r="2.95"/><g stroke="#000" stroke-width="1.4"><line x1="384.2" y1="500.4" x2="384.2" y2="511.4"/><line x1="381.9" y1="500.4" x2="386.5" y2="500.4"/><line x1="381.9" y1="511.4" x2="386.5" y2="511.4"/><line x1="380.4" y1="505.4" x2="388.0" y2="505.4"/></g><circle cx="399.7" cy="502.0" r="2.8" fill="none" stroke="#000" stroke-width="1.45"/><circle cx="407.5" cy="502.2" r="2.8" fill="none" stroke="#000" stroke-width="1.45"/><circle cx="402.7" cy="505.8" r="2.8" fill="none" stroke="#000" stroke-width="1.45"/><circle cx="405.1" cy="509.1" r="2.8" fill="none" stroke="#000" stroke-width="1.45"/><circle cx="403.3" cy="516.8" r="2.8" fill="none" stroke="#000" stroke-width="1.45"/><g stroke="#000" stroke-width="1.4"><line x1="403.3" y1="501.4" x2="403.3" y2="512.9"/><line x1="401.0" y1="501.4" x2="405.6" y2="501.4"/><line x1="401.0" y1="512.9" x2="405.6" y2="512.9"/><line x1="399.5" y1="506.9" x2="407.1" y2="506.9"/></g><circle cx="415.0" cy="495.6" r="2.95"/><circle cx="411.2" cy="504.0" r="2.95"/><circle cx="419.8" cy="504.0" r="2.95"/><circle cx="415.0" cy="505.2" r="2.95"/><circle cx="414.2" cy="512.0" r="2.95"/><g stroke="#000" stroke-width="1.4"><line x1="415.0" y1="498.4" x2="415.0" y2="510.4"/><line x1="412.7" y1="498.4" x2="417.3" y2="498.4"/><line x1="412.7" y1="510.4" x2="417.3" y2="510.4"/><line x1="411.2" y1="504.4" x2="418.8" y2="504.4"/></g><circle cx="435.1" cy="502.8" r="2.8" fill="none" stroke="#000" stroke-width="1.45"/><circle cx="435.1" cy="505.2" r="2.8" fill="none" stroke="#000" stroke-width="1.45"/><circle cx="435.1" cy="507.6" r="2.8" fill="none" stroke="#000" stroke-width="1.45"/><circle cx="438.9" cy="509.4" r="2.8" fill="none" stroke="#000" stroke-width="1.45"/><circle cx="432.4" cy="518.0" r="2.8" fill="none" stroke="#000" stroke-width="1.45"/><g stroke="#000" stroke-width="1.4"><line x1="435.1" y1="502.4" x2="435.1" y2="514.4"/><line x1="432.8" y1="502.4" x2="437.4" y2="502.4"/><line x1="432.8" y1="514.4" x2="437.4" y2="514.4"/><line x1="431.3" y1="508.4" x2="438.9" y2="508.4"/></g><circle cx="445.8" cy="504.0" r="2.95"/><circle cx="445.8" cy="506.4" r="2.95"/><circle cx="445.8" cy="508.2" r="2.95"/><circle cx="445.8" cy="510.5" r="2.95"/><circle cx="445.8" cy="505.4" r="2.95"/><g stroke="#000" stroke-width="1.4"><line x1="445.8" y1="503.4" x2="445.8" y2="510.4"/><line x1="443.5" y1="503.4" x2="448.1" y2="503.4"/><line x1="443.5" y1="510.4" x2="448.1" y2="510.4"/><line x1="442.0" y1="506.9" x2="449.6" y2="506.9"/></g><circle cx="461.1" cy="501.6" r="2.8" fill="none" stroke="#000" stroke-width="1.45"/><circle cx="467.9" cy="506.4" r="2.8" fill="none" stroke="#000" stroke-width="1.45"/><circle cx="465.2" cy="510.2" r="2.8" fill="none" stroke="#000" stroke-width="1.45"/><circle cx="465.2" cy="512.9" r="2.8" fill="none" stroke="#000" stroke-width="1.45"/><circle cx="465.2" cy="515.9" r="2.8" fill="none" stroke="#000" stroke-width="1.45"/><g stroke="#000" stroke-width="1.4"><line x1="465.2" y1="504.4" x2="465.2" y2="514.4"/><line x1="462.9" y1="504.4" x2="467.5" y2="504.4"/><line x1="462.9" y1="514.4" x2="467.5" y2="514.4"/><line x1="461.4" y1="509.4" x2="469.0" y2="509.4"/></g><circle cx="477.5" cy="502.8" r="2.95"/><circle cx="473.3" cy="506.4" r="2.95"/><circle cx="481.6" cy="506.4" r="2.95"/><circle cx="477.5" cy="506.4" r="2.95"/><circle cx="475.9" cy="512.9" r="2.95"/><g stroke="#000" stroke-width="1.4"><line x1="477.5" y1="502.4" x2="477.5" y2="510.4"/><line x1="475.2" y1="502.4" x2="479.8" y2="502.4"/><line x1="475.2" y1="510.4" x2="479.8" y2="510.4"/><line x1="473.7" y1="506.4" x2="481.3" y2="506.4"/></g><circle cx="496.3" cy="504.8" r="2.8" fill="none" stroke="#000" stroke-width="1.45"/><circle cx="496.3" cy="506.0" r="2.8" fill="none" stroke="#000" stroke-width="1.45"/><circle cx="496.3" cy="507.2" r="2.8" fill="none" stroke="#000" stroke-width="1.45"/><circle cx="496.3" cy="508.4" r="2.8" fill="none" stroke="#000" stroke-width="1.45"/><circle cx="496.3" cy="509.6" r="2.8" fill="none" stroke="#000" stroke-width="1.45"/><circle cx="496.3" cy="510.8" r="2.8" fill="none" stroke="#000" stroke-width="1.45"/><circle cx="500.8" cy="513.4" r="2.8" fill="none" stroke="#000" stroke-width="1.45"/><circle cx="494.4" cy="519.4" r="2.8" fill="none" stroke="#000" stroke-width="1.45"/><g stroke="#000" stroke-width="1.4"><line x1="496.3" y1="505.4" x2="496.3" y2="515.4"/><line x1="494.0" y1="505.4" x2="498.6" y2="505.4"/><line x1="494.0" y1="515.4" x2="498.6" y2="515.4"/><line x1="492.5" y1="510.4" x2="500.1" y2="510.4"/></g><circle cx="508.1" cy="501.6" r="2.95"/><circle cx="512.2" cy="505.2" r="2.95"/><circle cx="503.9" cy="507.2" r="2.95"/><circle cx="508.1" cy="511.1" r="2.95"/><circle cx="508.1" cy="513.5" r="2.95"/><g stroke="#000" stroke-width="1.4"><line x1="508.1" y1="503.4" x2="508.1" y2="511.4"/><line x1="505.8" y1="503.4" x2="510.4" y2="503.4"/><line x1="505.8" y1="511.4" x2="510.4" y2="511.4"/><line x1="504.3" y1="507.4" x2="511.9" y2="507.4"/></g><circle cx="523.2" cy="508.8" r="2.8" fill="none" stroke="#000" stroke-width="1.45"/><circle cx="529.6" cy="509.4" r="2.8" fill="none" stroke="#000" stroke-width="1.45"/><circle cx="526.6" cy="511.7" r="2.8" fill="none" stroke="#000" stroke-width="1.45"/><circle cx="527.8" cy="516.5" r="2.8" fill="none" stroke="#000" stroke-width="1.45"/><circle cx="527.8" cy="518.9" r="2.8" fill="none" stroke="#000" stroke-width="1.45"/><g stroke="#000" stroke-width="1.4"><line x1="527.8" y1="509.4" x2="527.8" y2="516.4"/><line x1="525.5" y1="509.4" x2="530.1" y2="509.4"/><line x1="525.5" y1="516.4" x2="530.1" y2="516.4"/><line x1="524.0" y1="512.9" x2="531.6" y2="512.9"/></g><circle cx="538.9" cy="506.0" r="2.95"/><circle cx="538.9" cy="507.2" r="2.95"/><circle cx="538.9" cy="512.6" r="2.95"/><circle cx="538.9" cy="514.1" r="2.95"/><g stroke="#000" stroke-width="1.4"><line x1="538.9" y1="506.4" x2="538.9" y2="513.4"/><line x1="536.6" y1="506.4" x2="541.2" y2="506.4"/><line x1="536.6" y1="513.4" x2="541.2" y2="513.4"/><line x1="535.1" y1="508.9" x2="542.7" y2="508.9"/></g></svg>
</body></html>
